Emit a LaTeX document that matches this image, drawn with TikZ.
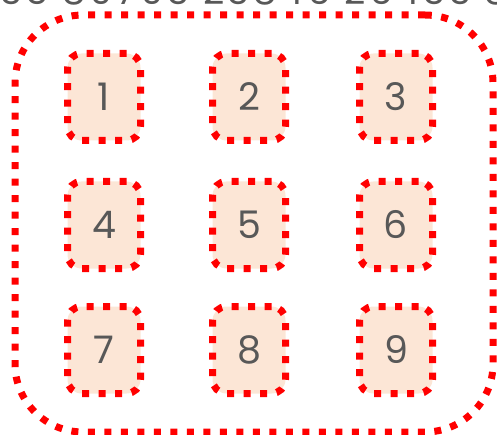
\documentclass[tikz,border=0pt]{standalone}
\usepackage{fontspec}
\setmainfont{Poppins}
\newfontfamily\widedigits[LetterSpace=10]{Poppins}
\definecolor{boxfill}{RGB}{252,230,214}
\definecolor{txt}{RGB}{88,88,88}
\begin{document}
\begin{tikzpicture}[x=1pt,y=-1pt,
  dotline/.style={draw=red, line width=7pt, dash pattern=on 7pt off 9.5pt},
  cell/.style={dotline, fill=boxfill, rounded corners=14pt, minimum width=73pt,
    minimum height=87pt, inner sep=0pt, text=txt, font=\fontsize{38}{38}\selectfont},
  toptext/.style={anchor=base, inner sep=0pt, text=txt, font=\widedigits\fontsize{37}{37}\selectfont}]
\useasboundingbox (0,0) rectangle (497,435);
\node[toptext] (pi) at (331,5) {\llap{3.14159 26535 89793 23846}\rlap{\ 26433 83279 50288}};
\node[dotline, rounded corners=68pt, minimum width=478pt, minimum height=417pt, inner sep=0pt] (outer) at (254,223.5) {};
\node[cell] (n1) at (104,97) {1};
\node[cell] (n2) at (249,97) {2};
\node[cell] (n3) at (396,97) {3};
\node[cell] (n4) at (104,225) {4};
\node[cell] (n5) at (249,225) {5};
\node[cell] (n6) at (396,225) {6};
\node[cell] (n7) at (104,350) {7};
\node[cell] (n8) at (249,350) {8};
\node[cell] (n9) at (396,350) {9};
\end{tikzpicture}
\end{document}
